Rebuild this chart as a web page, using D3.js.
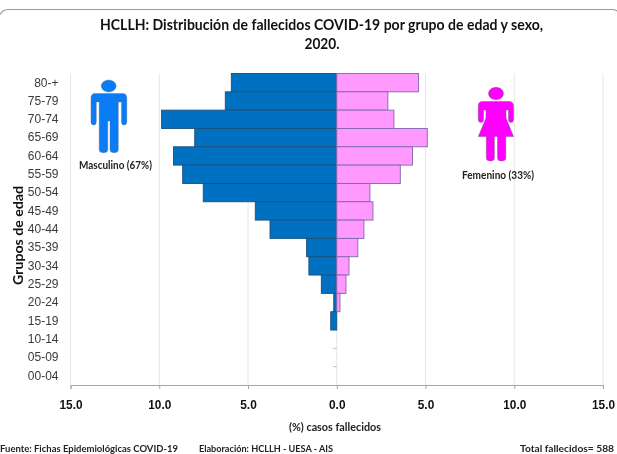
<!DOCTYPE html>
<html>
<head>
<meta charset="utf-8">
<script src="https://cdn.jsdelivr.net/npm/d3@7"></script>
<style>
body{margin:0;background:#fff;}
svg{display:block;font-family:Lato,sans-serif;filter:blur(0.35px);}
</style>
</head>
<body>
<div id="chart"></div>
<script>
var grupos = ["80-+","75-79","70-74","65-69","60-64","55-59","50-54","45-49","40-44","35-39","30-34","25-29","20-24","15-19","10-14","05-09","00-04"];
var masculino = [5.94,6.28,9.87,8.0,9.2,8.68,7.52,4.59,3.76,1.7,1.57,0.87,0.17,0.34,0,0,0];
var femenino = [4.61,2.88,3.22,5.1,4.27,3.58,1.87,2.04,1.53,1.19,0.69,0.52,0.18,0,0,0,0];
// the two almost empty groups only show as a thin dash in the picture
var trazas = [{grupo:"10-14",valor:0.2},{grupo:"05-09",valor:0.2}];
var ticksX = [-15,-10,-5,0,5,10,15];

var w = 617, h = 454;
var margin = {left:70.5, top:73.5, right:14, bottom:69};

var svg = d3.select("#chart").append("svg").attr("width",w).attr("height",h);

var xScale = d3.scaleLinear().domain([-15,15]).range([margin.left,w-margin.right]);
var yScale = d3.scaleBand().domain(grupos).range([margin.top,h-margin.bottom]);

// Lato is wider than the original font, so long texts get squeezed to the original width
var fit = function(sel,len){
    sel.attr("textLength",len).attr("lengthAdjust","spacingAndGlyphs");
};

// frame line at the top
svg.append("path")
    .attr("d","M0,14.5 Q2.5,9.5 9,9.5 L612,9.5 Q615,9.5 617,11")
    .attr("fill","none").attr("stroke","#9a9a9a").attr("stroke-width",1.2);

// grid
svg.append("g").selectAll("line")
    .data(ticksX)
    .enter()
    .append("line")
    .attr("x1",function(d){ return xScale(d);})
    .attr("x2",function(d){ return xScale(d);})
    .attr("y1",margin.top)
    .attr("y2",h-margin.bottom)
    .attr("stroke","#e6e6e6");

// bars
svg.append("g").selectAll("rect")
    .data(masculino)
    .enter()
    .filter(function(d){ return d>0;})
    .append("rect")
    .attr("x",function(d){ return xScale(-d);})
    .attr("y",function(d){ return yScale(grupos[masculino.indexOf(d)]);})
    .attr("width",function(d){ return xScale(0)-xScale(-d);})
    .attr("height",yScale.bandwidth())
    .attr("fill","#0070c0")
    .attr("stroke","#1d4f7c")
    .attr("stroke-width",0.9);

svg.append("g").selectAll("rect")
    .data(femenino)
    .enter()
    .filter(function(d){ return d>0;})
    .append("rect")
    .attr("x",xScale(0))
    .attr("y",function(d){ return yScale(grupos[femenino.indexOf(d)]);})
    .attr("width",function(d){ return xScale(d)-xScale(0);})
    .attr("height",yScale.bandwidth())
    .attr("fill","#ff99ff")
    .attr("stroke","#7d68ab")
    .attr("stroke-width",0.9);

svg.append("g").selectAll("line")
    .data(trazas)
    .enter()
    .append("line")
    .attr("x1",function(d){ return xScale(-d.valor);})
    .attr("x2",xScale(0))
    .attr("y1",function(d){ return yScale(d.grupo)+yScale.bandwidth();})
    .attr("y2",function(d){ return yScale(d.grupo)+yScale.bandwidth();})
    .attr("stroke","#bdbdbd");

// axes
var xAxis = d3.axisBottom(xScale)
    .tickValues(ticksX)
    .tickSize(4)
    .tickPadding(11)
    .tickFormat(function(d){ return Math.abs(d).toFixed(1);});

var gx = svg.append("g").attr("transform","translate(0,"+(h-margin.bottom)+")").call(xAxis);
gx.selectAll("path,line").attr("stroke","#a6a6a6");
gx.selectAll("text").attr("fill","#111").style("font-size","13px").style("font-weight","700")
    .attr("textLength",function(d){ return Math.abs(d)>=10 ? 23 : 16.5;})
    .attr("lengthAdjust","spacingAndGlyphs");

var yAxis = d3.axisLeft(yScale).tickSize(0).tickPadding(12);
var gy = svg.append("g").attr("transform","translate("+margin.left+",0)").call(yAxis);
gy.select(".domain").remove();
gy.selectAll("text").attr("fill","#3a3a3a").style("font-size","12px");

// titles
svg.append("text").attr("x",321.5).attr("y",30).attr("text-anchor","middle")
    .style("font-size","15.5px").style("font-weight","700").attr("fill","#111")
    .text("HCLLH: Distribución de fallecidos COVID-19 por grupo de edad y sexo,")
    .call(fit,443);
svg.append("text").attr("x",322).attr("y",49).attr("text-anchor","middle")
    .style("font-size","15.5px").style("font-weight","700").attr("fill","#111")
    .text("2020.")
    .call(fit,35);

svg.append("text").attr("transform","translate(23,235.5) rotate(-90)").attr("text-anchor","middle")
    .style("font-size","13.5px").style("font-weight","700").attr("fill","#111")
    .text("Grupos de edad")
    .call(fit,99);

svg.append("text").attr("x",335).attr("y",431).attr("text-anchor","middle")
    .style("font-size","11.5px").style("font-weight","700").attr("fill","#222")
    .text("(%) casos fallecidos")
    .call(fit,92);

// footer
var notas = [
    {t:"Fuente:  Fichas Epidemiológicas COVID-19", x:0, y:452, s:10, l:178},
    {t:"Elaboración: HCLLH - UESA - AIS", x:199, y:452, s:10, l:134},
    {t:"Total fallecidos= 588", x:520, y:452, s:10.3, l:94}
];
svg.append("g").selectAll("text")
    .data(notas)
    .enter()
    .append("text")
    .attr("x",function(d){ return d.x;})
    .attr("y",function(d){ return d.y;})
    .attr("textLength",function(d){ return d.l;})
    .attr("lengthAdjust","spacingAndGlyphs")
    .style("font-size",function(d){ return d.s+"px";})
    .style("font-weight","700")
    .attr("fill","#222")
    .text(function(d){ return d.t;});

// icons
var hombre = svg.append("g").attr("fill","#0a7cf5").attr("stroke","#5a6f8a").attr("stroke-width",0.4);
hombre.append("ellipse").attr("cx",108.7).attr("cy",86).attr("rx",7.5).attr("ry",6);
hombre.append("path").attr("d","M95,93.5 L122.5,93.5 Q126.8,93.5 126.8,98 L126.8,122 Q126.8,125 124,125 Q121.5,125 121.5,122 L121.5,102 L118.3,102 L118.3,149.5 Q118.3,152.7 114,152.7 Q110,152.7 110,149.5 L110,121 L107.8,121 L107.8,149.5 Q107.8,152.7 103.5,152.7 Q99.2,152.7 99.2,149.5 L99.2,102 L96.3,102 L96.3,122 Q96.3,125 93.7,125 Q91,125 91,122 L91,98 Q91,93.5 95,93.5 Z");

var mujer = svg.append("g").attr("fill","#ff00ff").attr("stroke","#6b4a7a").attr("stroke-width",0.4);
mujer.append("ellipse").attr("cx",496).attr("cy",93.5).attr("rx",7.5).attr("ry",6.2);
mujer.append("path").attr("d","M482.5,101.5 L509,101.5 Q513.5,101.5 513.5,106 L513.5,119.5 Q513.5,122.5 511,122.5 Q508.5,122.5 508.5,119.5 L508.5,110 L506,110 L506,118 L513.5,136.5 L505.8,136.5 L505.8,158 Q505.8,161 501.5,161 Q497.5,161 497.5,158 L497.5,136.5 L494.4,136.5 L494.4,158 Q494.4,161 490.3,161 Q486.3,161 486.3,158 L486.3,136.5 L478.3,136.5 L486,118 L486,110 L483.5,110 L483.5,119.5 Q483.5,122.5 481,122.5 Q478.3,122.5 478.3,119.5 L478.3,106 Q478.3,101.5 482.5,101.5 Z");

svg.append("text").attr("x",79).attr("y",169).style("font-size","10.5px").style("font-weight","700").attr("fill","#222").text("Masculino (67%)").call(fit,73);
svg.append("text").attr("x",462).attr("y",179).style("font-size","10.5px").style("font-weight","700").attr("fill","#222").text("Femenino (33%)").call(fit,72);
</script>
</body>
</html>
